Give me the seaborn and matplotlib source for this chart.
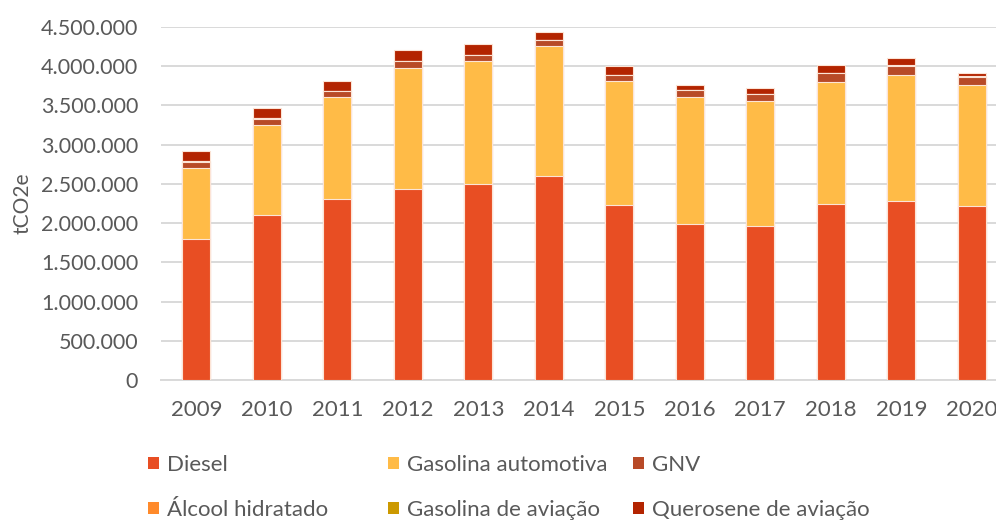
import matplotlib
matplotlib.use("Agg")
import matplotlib.pyplot as plt
from matplotlib.ticker import FuncFormatter, MultipleLocator
import numpy as np
import pandas as pd
import seaborn as sns

# Emissões por combustível (tCO2e)
anos = ["2009", "2010", "2011", "2012", "2013", "2014",
        "2015", "2016", "2017", "2018", "2019", "2020"]
diesel = [1800000, 2100000, 2310000, 2430000, 2500000, 2600000,
          2230000, 1990000, 1960000, 2240000, 2280000, 2220000]
gasolina_automotiva = [900000, 1150000, 1290000, 1540000, 1560000, 1650000,
                       1580000, 1620000, 1590000, 1560000, 1600000, 1540000]
gnv = [80000, 80000, 80000, 90000, 80000, 80000,
       70000, 80000, 90000, 110000, 120000, 100000]
alcool_hidratado = [5000, 5000, 5000, 5000, 5000, 5000,
                    5000, 5000, 5000, 5000, 5000, 5000]
gasolina_aviacao = [2000, 2000, 2000, 2000, 2000, 2000,
                    2000, 2000, 2000, 2000, 2000, 2000]
querosene_aviacao = [125000, 123000, 123000, 133000, 133000, 93000,
                     113000, 63000, 73000, 93000, 93000, 43000]

series = {
    "Diesel": diesel,
    "Gasolina automotiva": gasolina_automotiva,
    "GNV": gnv,
    "Álcool hidratado": alcool_hidratado,
    "Gasolina de aviação": gasolina_aviacao,
    "Querosene de aviação": querosene_aviacao,
}
cores = {
    "Diesel": "#E84E23",
    "Gasolina automotiva": "#FFBB47",
    "GNV": "#B84A27",
    "Álcool hidratado": "#FF8A2B",
    "Gasolina de aviação": "#CC9900",
    "Querosene de aviação": "#B32400",
}

df = pd.DataFrame(series, index=anos)
acumulado = df.cumsum(axis=1)

sns.set_theme(style="white")
plt.rcParams["font.family"] = ["Lato", "DejaVu Sans"]
texto = "#595959"

fig = plt.figure(figsize=(9.96, 5.2), dpi=100)
ax = fig.add_axes([161 / 996, 1 - 380 / 520, 846 / 996, (380 - 26.8) / 520])

# Stacked bars: draw cumulative totals from the top layer down
nomes = list(series.keys())
for nome in reversed(nomes):
    sns.barplot(x=anos, y=acumulado[nome].values, color=cores[nome],
                width=0.4, saturation=1, edgecolor="#FCE4D6", linewidth=0.8,
                ax=ax, zorder=3)

ax.set_ylim(0, 4500000)
ax.yaxis.set_major_locator(MultipleLocator(500000))
ax.yaxis.set_major_formatter(FuncFormatter(lambda v, p: f"{int(v):,}".replace(",", ".")))
ax.grid(axis="y", color="#D9D9D9", linewidth=1.4, zorder=0)
ax.set_axisbelow(True)
for s in ["top", "right", "left"]:
    ax.spines[s].set_visible(False)
ax.spines["bottom"].set_color("#D9D9D9")
ax.spines["bottom"].set_linewidth(1.4)
ax.tick_params(axis="both", length=0, colors=texto)
ax.tick_params(axis="y", pad=16.5, labelsize=15.5)
ax.tick_params(axis="x", pad=14.5, labelsize=16)
ax.set_xlabel("")
ax.set_ylabel("tCO2e", fontsize=15, color=texto)
ax.yaxis.set_label_coords(-0.152, 0.5)

# Legend in three columns, two rows
handles = {}
for nome in nomes:
    handles[nome] = plt.Rectangle((0, 0), 1, 1, facecolor=cores[nome], edgecolor="none")
colunas = [("Diesel", "Álcool hidratado"),
           ("Gasolina automotiva", "Gasolina de aviação"),
           ("GNV", "Querosene de aviação")]
posx = [148, 388, 633]
for (a, b), x in zip(colunas, posx):
    fig.legend([handles[a], handles[b]], [a, b],
               loc="upper left", bbox_to_anchor=(x / 996, 1 - 455 / 520),
               frameon=False, fontsize=16, labelcolor=texto,
               handlelength=0.5, handleheight=0.5, handletextpad=0.35,
               labelspacing=1.12, borderpad=0, borderaxespad=0)

fig.savefig("out.png", dpi=100)
